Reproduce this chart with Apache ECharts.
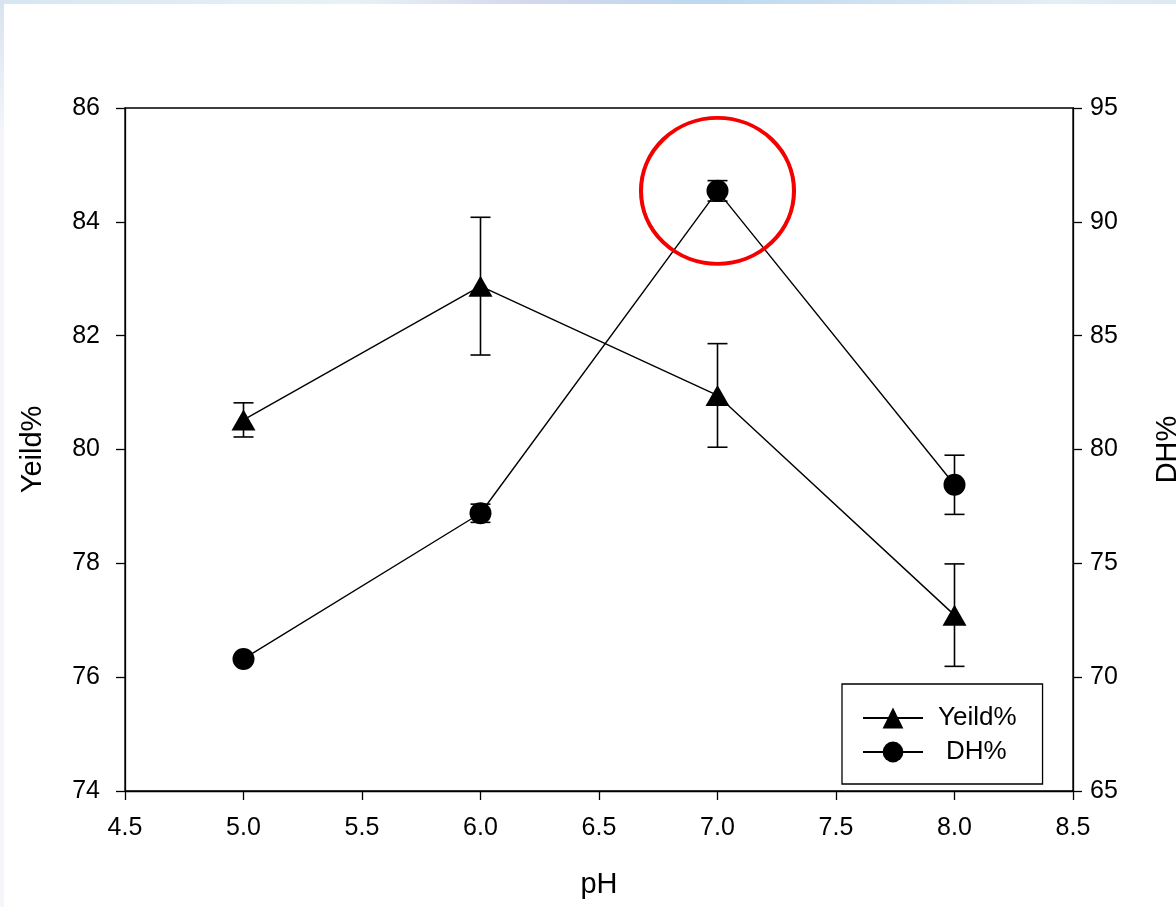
<!DOCTYPE html>
<html>
<head>
<meta charset="utf-8">
<script src="https://cdn.jsdelivr.net/npm/echarts@6/dist/echarts.min.js"></script>
<style>
  html, body { margin: 0; padding: 0; background: #fff; }
  #chart { width: 1176px; height: 907px; }
</style>
</head>
<body>
<div id="chart"></div>
<script>
// pH levels tested
const phLevels = [5.0, 6.0, 7.0, 8.0];
// Yield (%) mean and standard deviation
const yieldMean = [80.52, 82.87, 80.95, 77.09];
const yieldErr  = [0.30, 1.21, 0.91, 0.90];
// Degree of hydrolysis (%) mean and standard deviation
const dhMean = [70.80, 77.20, 91.36, 78.45];
const dhErr  = [0.10, 0.40, 0.45, 1.30];
// Axis ranges and ticks
const xRange = [4.5, 8.5, 0.5];
const yLeftRange = [74, 86, 2];
const yRightRange = [65, 95, 5];

const FONT = '"Liberation Sans", Arial, sans-serif';
const chart = echarts.init(document.getElementById('chart'));

function errorSeries(name, means, errs, yAxisIndex) {
  return {
    type: 'custom',
    name: name + ' err',
    yAxisIndex: yAxisIndex,
    z: 1,
    silent: true,
    data: phLevels.map((x, i) => [x, means[i] - errs[i], means[i] + errs[i]]),
    renderItem: function (params, api) {
      const lo = api.coord([api.value(0), api.value(1)]);
      const hi = api.coord([api.value(0), api.value(2)]);
      const w = 10;
      const style = { stroke: '#000', lineWidth: 1.6 };
      return {
        type: 'group',
        children: [
          { type: 'line', shape: { x1: lo[0], y1: lo[1], x2: hi[0], y2: hi[1] }, style: style },
          { type: 'line', shape: { x1: hi[0] - w, y1: hi[1], x2: hi[0] + w, y2: hi[1] }, style: style },
          { type: 'line', shape: { x1: lo[0] - w, y1: lo[1], x2: lo[0] + w, y2: lo[1] }, style: style }
        ]
      };
    }
  };
}

const axisLine = { show: true, lineStyle: { color: '#000', width: 1.3 } };
const axisTick = { show: true, inside: false, length: 9, lineStyle: { color: '#000', width: 1.3 } };
const axisLabel = { color: '#000', fontFamily: FONT, fontSize: 25 };
const nameStyle = { color: '#000', fontFamily: FONT, fontSize: 29 };

chart.setOption({
  animation: false,
  backgroundColor: '#fff',
  graphic: [
    {
      type: 'rect', left: 0, top: 0, z: -10,
      shape: { width: 1176, height: 4 },
      style: {
        fill: new echarts.graphic.LinearGradient(0, 0, 1, 0, [
          { offset: 0, color: '#d6e6f2' },
          { offset: 0.3, color: '#e8f2f5' },
          { offset: 0.45, color: '#d4d8ec' },
          { offset: 0.6, color: '#bcd8ef' },
          { offset: 0.9, color: '#e4eef4' },
          { offset: 1, color: '#dbe9f2' }
        ])
      }
    },
    {
      type: 'rect', left: 0, top: 0, z: -10,
      shape: { width: 4, height: 907 },
      style: {
        fill: new echarts.graphic.LinearGradient(0, 0, 0, 1, [
          { offset: 0, color: '#d9e2f0' },
          { offset: 0.15, color: '#f4f6fa' },
          { offset: 1, color: '#f4f6fa' }
        ])
      }
    }
  ],
  grid: {
    left: 125, right: 103, top: 108, bottom: 116,
    outerBoundsMode: 'none',
    containLabel: false,
    show: true, borderColor: '#000', borderWidth: 1.3, backgroundColor: 'transparent'
  },
  legend: {
    orient: 'vertical',
    left: 842, top: 684,
    padding: [21, 26, 19, 20],
    itemWidth: 60, itemHeight: 26, itemGap: 8,
    borderColor: '#000', borderWidth: 1.3,
    backgroundColor: '#fff',
    textStyle: { color: '#000', fontFamily: FONT, fontSize: 26, padding: [0, 0, 0, 10] },
    data: [
      { name: 'Yeild%' },
      { name: 'DH%', textStyle: { padding: [0, 0, 0, 18] } }
    ]
  },
  xAxis: {
    type: 'value',
    min: xRange[0], max: xRange[1], interval: xRange[2],
    name: 'pH', nameLocation: 'middle', nameGap: 79,
    nameTextStyle: nameStyle,
    axisLine: axisLine, axisTick: axisTick,
    axisLabel: Object.assign({ margin: 25, formatter: v => v.toFixed(1) }, axisLabel),
    splitLine: { show: false }
  },
  yAxis: [
    {
      type: 'value', position: 'left',
      min: yLeftRange[0], max: yLeftRange[1], interval: yLeftRange[2],
      name: 'Yeild%', nameLocation: 'middle', nameGap: 78, nameRotate: 90,
      nameTextStyle: nameStyle,
      axisLine: axisLine, axisTick: axisTick,
      axisLabel: Object.assign({ margin: 25 }, axisLabel),
      splitLine: { show: false }
    },
    {
      type: 'value', position: 'right',
      min: yRightRange[0], max: yRightRange[1], interval: yRightRange[2],
      name: 'DH%', nameLocation: 'middle', nameGap: 80, nameRotate: 90,
      nameTextStyle: nameStyle,
      axisLine: axisLine, axisTick: axisTick,
      axisLabel: Object.assign({ margin: 17 }, axisLabel),
      splitLine: { show: false }
    }
  ],
  series: [
    errorSeries('Yeild%', yieldMean, yieldErr, 0),
    errorSeries('DH%', dhMean, dhErr, 1),
    {
      name: 'Yeild%', type: 'line', yAxisIndex: 0, z: 3,
      data: phLevels.map((x, i) => [x, yieldMean[i]]),
      symbol: 'triangle', symbolSize: [24, 21],
      lineStyle: { color: '#000', width: 1.4 },
      itemStyle: { color: '#000' }
    },
    {
      name: 'DH%', type: 'line', yAxisIndex: 1, z: 3,
      data: phLevels.map((x, i) => [x, dhMean[i]]),
      symbol: 'circle', symbolSize: 22,
      lineStyle: { color: '#000', width: 1.4 },
      itemStyle: { color: '#000' },
      markPoint: {
        silent: true,
        symbol: 'circle',
        symbolSize: [153, 146],
        itemStyle: { color: 'rgba(0,0,0,0)', borderColor: '#f40000', borderWidth: 4 },
        label: { show: false },
        data: [{ coord: [phLevels[2], dhMean[2]] }]
      }
    }
  ]
});
</script>
</body>
</html>
